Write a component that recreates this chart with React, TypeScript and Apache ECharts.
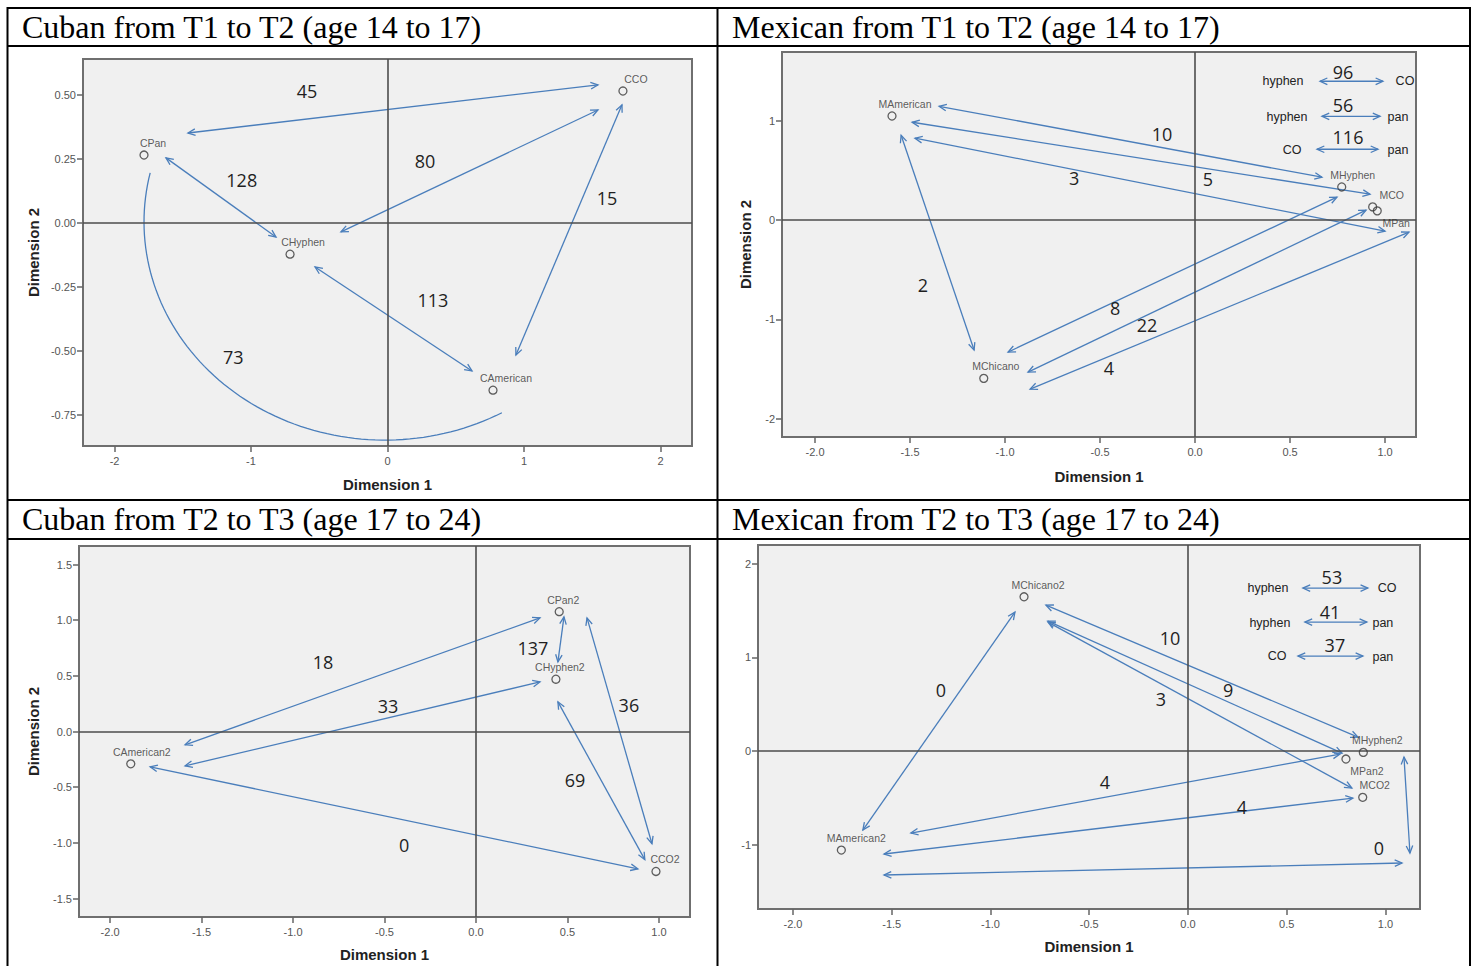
import React, { useEffect, useRef } from "react";
import * as echarts from "echarts";

type Pt = [string, number, number];
type Seg = [number, number, number, number];
// centre x, centre y, radius x, radius y, start angle, end angle (degrees)
type Arc = [number, number, number, number, number, number];

// ---------- Cuban, T1 -> T2 ----------
const CUBAN_T1_POINTS: Pt[] = [
  ["CCO", 1.725, 0.514],
  ["CPan", -1.784, 0.264],
  ["CHyphen", -0.714, -0.123],
  ["CAmerican", 0.773, -0.654],
];
const CUBAN_T1_ARROWS: Seg[] = [
  [-1.462, 0.35, 1.542, 0.538],
  [-0.341, -0.036, 1.542, 0.44],
  [0.941, -0.517, 1.718, 0.46],
  [-1.623, 0.253, -0.817, -0.056],
  [-0.531, -0.173, 0.619, -0.579],
];
const CUBAN_T1_COUNTS: Pt[] = [
  ["45", -0.59, 0.514],
  ["80", 0.275, 0.241],
  ["15", 1.608, 0.097],
  ["128", -1.068, 0.167],
  ["113", 0.333, -0.302],
  ["73", -1.13, -0.523],
];
// curved link running from CPan round the bottom to CAmerican
const CUBAN_T1_ARCS: Arc[] = [[-0.018, 0.003, 1.766, 0.852, 167, 299]];

// ---------- Mexican, T1 -> T2 ----------
const MEXICAN_T1_POINTS: Pt[] = [
  ["MAmerican", -1.595, 1.05],
  ["MChicano", -1.112, -1.594],
  ["MHyphen", 0.772, 0.335],
  ["MCO", 0.935, 0.134],
  ["MPan", 0.959, 0.094],
];
const MEXICAN_T1_ARROWS: Seg[] = [
  [-1.347, 1.148, 0.668, 0.433],
  [-1.489, 0.987, 0.921, 0.262],
  [-1.474, 0.826, 1.0, -0.111],
  [-1.547, 0.856, -1.163, -1.309],
  [-0.984, -1.329, 0.747, 0.232],
  [-0.879, -1.531, 0.9, 0.101],
  [-0.868, -1.702, 1.126, -0.121],
];
const MEXICAN_T1_COUNTS: Pt[] = [
  ["10", -0.174, 0.866],
  ["5", 0.068, 0.413],
  ["3", -0.637, 0.423],
  ["2", -1.432, -0.655],
  ["8", -0.421, -0.886],
  ["22", -0.253, -1.057],
  ["4", -0.453, -1.49],
];
const MEXICAN_T1_KEY_ARROWS: Seg[] = [
  [0.658, 1.4, 0.989, 1.4],
  [0.668, 1.047, 0.974, 1.047],
  [0.642, 0.715, 0.963, 0.715],
];
const MEXICAN_T1_KEY_COUNTS: Pt[] = [
  ["96", 0.779, 1.49],
  ["56", 0.779, 1.158],
  ["116", 0.805, 0.836],
];
const MEXICAN_T1_KEY_WORDS: Pt[] = [
  ["hyphen", 0.463, 1.4],
  ["CO", 1.105, 1.4],
  ["hyphen", 0.484, 1.037],
  ["pan", 1.068, 1.037],
  ["CO", 0.511, 0.705],
  ["pan", 1.068, 0.705],
];

// ---------- Cuban, T2 -> T3 ----------
const CUBAN_T2_POINTS: Pt[] = [
  ["CPan2", 0.455, 1.077],
  ["CHyphen2", 0.437, 0.47],
  ["CCO2", 0.984, -1.257],
  ["CAmerican2", -1.887, -0.29],
];
const CUBAN_T2_ARROWS: Seg[] = [
  [-1.59, -0.119, 0.35, 1.021],
  [-1.59, -0.308, 0.35, 0.446],
  [-1.781, -0.317, 0.885, -1.233],
  [0.481, 1.03, 0.448, 0.626],
  [0.607, 1.021, 0.962, -1.008],
  [0.448, 0.267, 0.923, -1.151],
];
const CUBAN_T2_COUNTS: Pt[] = [
  ["18", -0.836, 0.627],
  ["33", -0.481, 0.231],
  ["0", -0.393, -1.016],
  ["137", 0.311, 0.751],
  ["36", 0.836, 0.24],
  ["69", 0.541, -0.434],
];

// ---------- Mexican, T2 -> T3 ----------
const MEXICAN_T2_POINTS: Pt[] = [
  ["MChicano2", -0.83, 1.647],
  ["MAmerican2", -1.755, -1.057],
  ["MHyphen2", 0.888, -0.014],
  ["MPan2", 0.8, -0.085],
  ["MCO2", 0.885, -0.494],
];
const MEXICAN_T2_ARROWS: Seg[] = [
  [-0.719, 1.558, 0.861, 0.149],
  [-0.709, 1.387, 0.78, -0.021],
  [-0.709, 1.377, 0.83, -0.395],
  [-0.876, 1.483, -1.646, -0.843],
  [-1.403, -0.875, 0.77, -0.032],
  [-1.539, -1.099, 0.835, -0.502],
  [-1.539, -1.323, 1.084, -1.195],
  [1.094, -0.064, 1.124, -1.089],
];
const MEXICAN_T2_COUNTS: Pt[] = [
  ["0", -1.251, 0.651],
  ["10", -0.091, 1.206],
  ["9", 0.203, 0.651],
  ["3", -0.137, 0.555],
  ["4", -0.42, -0.331],
  ["4", 0.273, -0.598],
  ["0", 0.967, -1.035],
];
const MEXICAN_T2_KEY_ARROWS: Seg[] = [
  [0.582, 1.74, 0.911, 1.74],
  [0.592, 1.377, 0.906, 1.377],
  [0.557, 1.014, 0.886, 1.014],
];
const MEXICAN_T2_KEY_COUNTS: Pt[] = [
  ["53", 0.729, 1.857],
  ["41", 0.719, 1.483],
  ["37", 0.744, 1.131],
];
const MEXICAN_T2_KEY_WORDS: Pt[] = [
  ["hyphen", 0.405, 1.74],
  ["CO", 1.008, 1.74],
  ["hyphen", 0.415, 1.366],
  ["pan", 0.987, 1.366],
  ["CO", 0.451, 1.014],
  ["pan", 0.987, 1.003],
];

// ---------- axis ticks ----------
const TICKS_UNIT_X = [-2, -1, 0, 1, 2];
const TICKS_QUARTER_Y = [-0.75, -0.5, -0.25, 0, 0.25, 0.5];
const TICKS_HALF_X = [-2, -1.5, -1, -0.5, 0, 0.5, 1];
const TICKS_MEX_T1_Y = [-2, -1, 0, 1];
const TICKS_CUB_T2_Y = [-1.5, -1, -0.5, 0, 0.5, 1, 1.5];
const TICKS_MEX_T2_Y = [-1, 0, 1, 2];

const HEADERS = [
  "Cuban from T1 to T2 (age 14 to 17)",
  "Mexican from T1 to T2 (age 14 to 17)",
  "Cuban from T2 to T3 (age 17 to 24)",
  "Mexican from T2 to T3 (age 17 to 24)",
];

// label placement beside each category point
const LABEL_PLACE: Record<string, { pos: "top" | "bottom"; dx: number }> = {
  CCO: { pos: "top", dx: 13 },
  CPan: { pos: "top", dx: 9 },
  CHyphen: { pos: "top", dx: 13 },
  CAmerican: { pos: "top", dx: 13 },
  MAmerican: { pos: "top", dx: 13 },
  MChicano: { pos: "top", dx: 12 },
  MHyphen: { pos: "top", dx: 11 },
  MCO: { pos: "top", dx: 19 },
  MPan: { pos: "bottom", dx: 19 },
  CPan2: { pos: "top", dx: 4 },
  CHyphen2: { pos: "top", dx: 4 },
  CCO2: { pos: "top", dx: 9 },
  CAmerican2: { pos: "top", dx: 11 },
  MChicano2: { pos: "top", dx: 14 },
  MAmerican2: { pos: "top", dx: 15 },
  MHyphen2: { pos: "top", dx: 14 },
  MPan2: { pos: "bottom", dx: 21 },
  MCO2: { pos: "top", dx: 12 },
};

const ARROW_COLOR = "#4a7ebb";
const SANS = "Liberation Sans";

interface PanelCfg {
  grid: { left: number; top: number; width: number; height: number };
  x: [number, number];
  y: [number, number];
  xTicks: number[];
  yTicks: number[];
  xDec: number;
  yDec: number;
  xNameGap: number;
  yNameGap: number | null;
  points: Pt[];
  arrows: Seg[];
  counts: Pt[];
  keyArrows?: Seg[];
  keyCounts?: Pt[];
  keyWords?: Pt[];
  arcs?: Arc[];
}

const PANELS: PanelCfg[] = [
  {
    grid: { left: 83, top: 59, width: 609, height: 387 },
    x: [-2.231, 2.231],
    y: [-0.872, 0.639],
    xTicks: TICKS_UNIT_X,
    yTicks: TICKS_QUARTER_Y,
    xDec: 0,
    yDec: 2,
    xNameGap: 31,
    yNameGap: 42,
    points: CUBAN_T1_POINTS,
    arrows: CUBAN_T1_ARROWS,
    counts: CUBAN_T1_COUNTS,
    arcs: CUBAN_T1_ARCS,
  },
  {
    grid: { left: 782, top: 52, width: 634, height: 385 },
    x: [-2.174, 1.163],
    y: [-2.185, 1.695],
    xTicks: TICKS_HALF_X,
    yTicks: TICKS_MEX_T1_Y,
    xDec: 1,
    yDec: 0,
    xNameGap: 32,
    yNameGap: 29,
    points: MEXICAN_T1_POINTS,
    arrows: MEXICAN_T1_ARROWS,
    counts: MEXICAN_T1_COUNTS,
    keyArrows: MEXICAN_T1_KEY_ARROWS,
    keyCounts: MEXICAN_T1_KEY_COUNTS,
    keyWords: MEXICAN_T1_KEY_WORDS,
  },
  {
    grid: { left: 79, top: 546, width: 611, height: 371 },
    x: [-2.17, 1.17],
    y: [-1.666, 1.667],
    xTicks: TICKS_HALF_X,
    yTicks: TICKS_CUB_T2_Y,
    xDec: 1,
    yDec: 1,
    xNameGap: 30,
    yNameGap: 38,
    points: CUBAN_T2_POINTS,
    arrows: CUBAN_T2_ARROWS,
    counts: CUBAN_T2_COUNTS,
  },
  {
    grid: { left: 758, top: 545, width: 662, height: 364 },
    x: [-2.177, 1.175],
    y: [-1.686, 2.2],
    xTicks: TICKS_HALF_X,
    yTicks: TICKS_MEX_T2_Y,
    xDec: 1,
    yDec: 0,
    xNameGap: 30,
    yNameGap: null,
    points: MEXICAN_T2_POINTS,
    arrows: MEXICAN_T2_ARROWS,
    counts: MEXICAN_T2_COUNTS,
    keyArrows: MEXICAN_T2_KEY_ARROWS,
    keyCounts: MEXICAN_T2_KEY_COUNTS,
    keyWords: MEXICAN_T2_KEY_WORDS,
  },
];

// double-headed arrow between two data positions
function arrowRender(params: any, api: any) {
  const a = api.coord([api.value(0), api.value(1)]);
  const b = api.coord([api.value(2), api.value(3)]);
  const head = (tip: number[], from: number[]) => {
    const ang = Math.atan2(from[1] - tip[1], from[0] - tip[0]);
    const L = 8;
    const w = 0.42;
    return [
      [tip[0] + L * Math.cos(ang + w), tip[1] + L * Math.sin(ang + w)],
      [tip[0], tip[1]],
      [tip[0] + L * Math.cos(ang - w), tip[1] + L * Math.sin(ang - w)],
    ];
  };
  const style = { stroke: ARROW_COLOR, lineWidth: 1.3, fill: "none" };
  return {
    type: "group",
    children: [
      { type: "line", shape: { x1: a[0], y1: a[1], x2: b[0], y2: b[1] }, style },
      { type: "polyline", shape: { points: head(a, b) }, style },
      { type: "polyline", shape: { points: head(b, a) }, style },
    ],
  };
}

// elliptical connector, traced in data space and projected by the axes
function arcRender(params: any, api: any) {
  const cx = api.value(0);
  const cy = api.value(1);
  const rx = api.value(2);
  const ry = api.value(3);
  const a0 = (api.value(4) * Math.PI) / 180;
  const a1 = (api.value(5) * Math.PI) / 180;
  const steps = 80;
  const pts: number[][] = [];
  for (let k = 0; k <= steps; k++) {
    const t = a0 + ((a1 - a0) * k) / steps;
    pts.push(api.coord([cx + rx * Math.cos(t), cy + ry * Math.sin(t)]));
  }
  return {
    type: "polyline",
    shape: { points: pts },
    style: { stroke: ARROW_COLOR, lineWidth: 1.3, fill: "none" },
  };
}

function textSeries(idx: number, list: Pt[], size: number, family: string, color: string) {
  return {
    type: "custom",
    xAxisIndex: idx,
    yAxisIndex: idx,
    z: 6,
    silent: true,
    data: list.map((d) => [d[1], d[2]]),
    renderItem: (params: any, api: any) => {
      const p = api.coord([api.value(0), api.value(1)]);
      return {
        type: "text",
        x: p[0],
        y: p[1],
        style: {
          text: list[params.dataIndex][0],
          fontSize: size,
          fontFamily: family,
          fill: color,
          align: "center",
          verticalAlign: "middle",
        },
      };
    },
  };
}

function buildOption() {
  const grids: any[] = [];
  const xAxes: any[] = [];
  const yAxes: any[] = [];
  const series: any[] = [];

  PANELS.forEach((p, i) => {
    grids.push({
      ...p.grid,
      show: true,
      backgroundColor: "#f0f0f0",
      borderColor: "#6f6f6f",
      borderWidth: 2,
      containLabel: false,
    });
    const tickLabel = {
      fontSize: 11,
      fontFamily: SANS,
      color: "#555",
    };
    xAxes.push({
      type: "value",
      gridIndex: i,
      min: p.x[0],
      max: p.x[1],
      position: "bottom",
      axisLine: { show: false, onZero: false },
      splitLine: { show: false },
      axisTick: {
        show: true,
        length: 6,
        customValues: p.xTicks,
        lineStyle: { color: "#666", width: 1.5 },
      },
      axisLabel: {
        ...tickLabel,
        margin: 9,
        customValues: p.xTicks,
        formatter: (v: number) => v.toFixed(p.xDec),
      },
      name: "Dimension 1",
      nameLocation: "middle",
      nameGap: p.xNameGap,
      nameTextStyle: { fontSize: 15, fontWeight: "bold", fontFamily: SANS, color: "#222" },
    });
    yAxes.push({
      type: "value",
      gridIndex: i,
      min: p.y[0],
      max: p.y[1],
      position: "left",
      axisLine: { show: false, onZero: false },
      splitLine: { show: false },
      axisTick: {
        show: true,
        length: 6,
        customValues: p.yTicks,
        lineStyle: { color: "#666", width: 1.5 },
      },
      axisLabel: {
        ...tickLabel,
        margin: 7,
        customValues: p.yTicks,
        formatter: (v: number) => v.toFixed(p.yDec),
      },
      name: p.yNameGap === null ? "" : "Dimension 2",
      nameLocation: "middle",
      nameGap: p.yNameGap ?? 0,
      nameRotate: 90,
      nameTextStyle: { fontSize: 15, fontWeight: "bold", fontFamily: SANS, color: "#222" },
    });

    // reference lines through the origin
    series.push({
      type: "line",
      xAxisIndex: i,
      yAxisIndex: i,
      z: 1,
      silent: true,
      symbol: "none",
      data: [[p.points[0][1], p.points[0][2]]],
      lineStyle: { opacity: 0 },
      markLine: {
        silent: true,
        symbol: "none",
        label: { show: false },
        lineStyle: { color: "#4d4d4d", width: 1.6, type: "solid" },
        data: [{ xAxis: 0 }, { yAxis: 0 }],
      },
    });

    if (p.arcs) {
      series.push({
        type: "custom",
        xAxisIndex: i,
        yAxisIndex: i,
        z: 3,
        silent: true,
        data: p.arcs,
        renderItem: arcRender,
      });
    }

    series.push({
      type: "custom",
      xAxisIndex: i,
      yAxisIndex: i,
      z: 3,
      silent: true,
      data: [...p.arrows, ...(p.keyArrows || [])],
      renderItem: arrowRender,
    });

    series.push({
      type: "scatter",
      xAxisIndex: i,
      yAxisIndex: i,
      z: 5,
      silent: true,
      symbol: "circle",
      symbolSize: 8,
      itemStyle: { color: "rgba(0,0,0,0)", borderColor: "#3a3a3a", borderWidth: 1.3 },
      data: p.points.map((d) => {
        const place = LABEL_PLACE[d[0]] || { pos: "top", dx: 12 };
        return {
          name: d[0],
          value: [d[1], d[2]],
          label: {
            show: true,
            position: place.pos,
            distance: 2,
            offset: [place.dx, 0],
            formatter: "{b}",
            fontSize: 10.5,
            fontFamily: SANS,
            color: "#333",
          },
        };
      }),
    });

    series.push(textSeries(i, p.counts, 18, "Open Sans", "#1f1f1f"));
    if (p.keyCounts) series.push(textSeries(i, p.keyCounts, 18, "Open Sans", "#1f1f1f"));
    if (p.keyWords) series.push(textSeries(i, p.keyWords, 12.5, SANS, "#222"));
  });

  const black = { stroke: "#000", lineWidth: 2 };
  const hLine = (y: number) => ({
    type: "line",
    shape: { x1: 7, y1: y, x2: 1471, y2: y },
    style: black,
    silent: true,
  });
  const vLine = (x: number) => ({
    type: "line",
    shape: { x1: x, y1: 7, x2: x, y2: 966 },
    style: black,
    silent: true,
  });
  const header = (text: string, x: number, y: number) => ({
    type: "text",
    x,
    y,
    silent: true,
    style: {
      text,
      fontSize: 32,
      fontFamily: "Liberation Serif",
      fill: "#000",
      align: "left",
      verticalAlign: "middle",
    },
  });

  return {
    animation: false,
    backgroundColor: "#ffffff",
    grid: grids,
    xAxis: xAxes,
    yAxis: yAxes,
    series,
    graphic: [
      hLine(8),
      hLine(46),
      hLine(500),
      hLine(539),
      vLine(7.5),
      vLine(717.5),
      vLine(1470),
      header(HEADERS[0], 22, 27),
      header(HEADERS[1], 732, 27),
      header(HEADERS[2], 22, 519),
      header(HEADERS[3], 732, 519),
    ],
  };
}

export default function App() {
  const ref = useRef<HTMLDivElement>(null);
  useEffect(() => {
    if (!ref.current) return;
    const chart = echarts.init(ref.current, undefined, { renderer: "svg" });
    chart.setOption(buildOption() as any);
    return () => chart.dispose();
  }, []);
  return (
    <div
      ref={ref}
      style={{ position: "absolute", left: 0, top: 0, width: 1477, height: 966, background: "#fff" }}
    />
  );
}
